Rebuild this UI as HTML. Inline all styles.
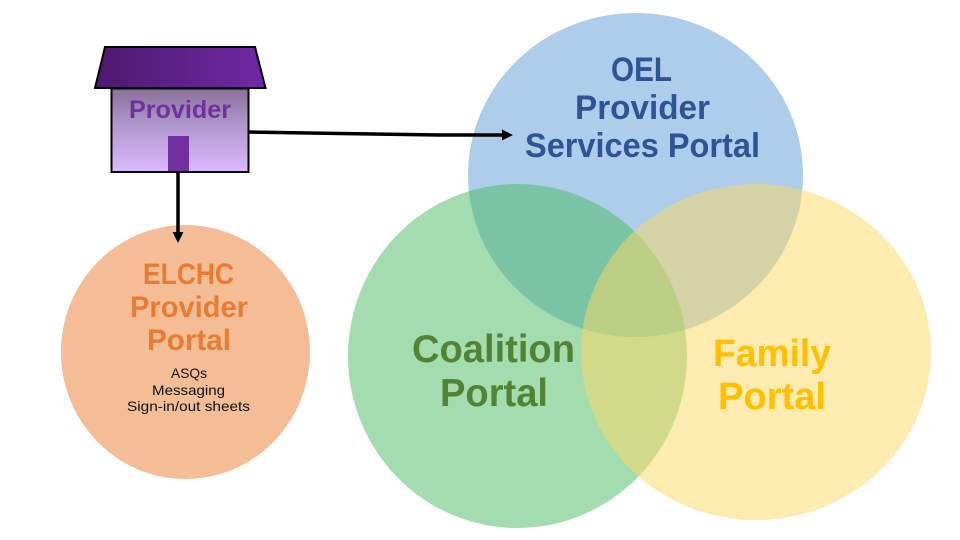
<!DOCTYPE html>
<html>
<head>
<meta charset="utf-8">
<style>
html,body{margin:0;padding:0;background:#fff;width:960px;height:540px;overflow:hidden}
svg{display:block}
text{font-family:"Liberation Sans",sans-serif;text-anchor:start}
.b{font-weight:bold}
</style>
</head>
<body>
<svg width="960" height="540" viewBox="0 0 960 540" xmlns="http://www.w3.org/2000/svg">
<defs>
<linearGradient id="roof" x1="0" y1="0" x2="1" y2="0"><stop offset="0" stop-color="#4b1a6e"/><stop offset="1" stop-color="#7028a4"/></linearGradient>
<linearGradient id="wall" x1="0" y1="0" x2="0" y2="1"><stop offset="0" stop-color="#8a7198"/><stop offset="0.45" stop-color="#b197cf"/><stop offset="1" stop-color="#dcb8ff"/></linearGradient>
</defs>
<rect width="960" height="540" fill="#fff"/>

<ellipse cx="635.5" cy="175" rx="167.5" ry="162" fill="#5b9bd5" fill-opacity="0.5"/>
<ellipse cx="517.5" cy="356" rx="169.5" ry="172" fill="#47bb5f" fill-opacity="0.5"/>
<ellipse cx="756" cy="352" rx="175" ry="168" fill="#fdd761" fill-opacity="0.5"/>
<ellipse cx="185.5" cy="352" rx="124.5" ry="127" fill="#f4bd96"/>

<rect x="111.5" y="88.5" width="137" height="83.500" fill="url(#wall)" stroke="#000" stroke-width="2"/>
<polygon points="105,47 255,47 265.500,88 95,88" fill="url(#roof)" stroke="#000" stroke-width="2"/>
<rect x="168" y="136" width="21" height="35" fill="#7030a0"/>

<polyline points="249,132 340,133.500 440,135 505,135" fill="none" stroke="#000" stroke-width="3.500"/>
<polygon points="502,129.500 513,135 502,140.500" fill="#000"/>
<line x1="178" y1="171" x2="178" y2="233" stroke="#000" stroke-width="3.500"/>
<polygon points="172.500,232 183.500,232 178,243" fill="#000"/>

<text class="b" x="129" y="118" font-size="25" fill="#7030a0" textLength="102" lengthAdjust="spacingAndGlyphs">Provider</text>

<text class="b" x="611" y="81" font-size="34" fill="#2f5496" textLength="61" lengthAdjust="spacingAndGlyphs">OEL</text>
<text class="b" x="575" y="119" font-size="34" fill="#2f5496" textLength="135" lengthAdjust="spacingAndGlyphs">Provider</text>
<text class="b" x="525" y="157" font-size="34" fill="#2f5496" textLength="235" lengthAdjust="spacingAndGlyphs">Services Portal</text>

<text class="b" x="412" y="362" font-size="39" fill="#548235" textLength="163" lengthAdjust="spacingAndGlyphs">Coalition</text>
<text class="b" x="440" y="406" font-size="39" fill="#548235" textLength="108" lengthAdjust="spacingAndGlyphs">Portal</text>

<text class="b" x="713" y="366" font-size="38" fill="#ffc000" textLength="118" lengthAdjust="spacingAndGlyphs">Family</text>
<text class="b" x="718" y="409" font-size="38" fill="#ffc000" textLength="108" lengthAdjust="spacingAndGlyphs">Portal</text>

<text class="b" x="143" y="284" font-size="30" fill="#e97c33" textLength="91" lengthAdjust="spacingAndGlyphs">ELCHC</text>
<text class="b" x="130" y="317" font-size="30" fill="#e97c33" textLength="118" lengthAdjust="spacingAndGlyphs">Provider</text>
<text class="b" x="147" y="350" font-size="30" fill="#e97c33" textLength="84" lengthAdjust="spacingAndGlyphs">Portal</text>

<text x="171" y="378" font-size="14" fill="#111" textLength="36" lengthAdjust="spacingAndGlyphs">ASQs</text>
<text x="152" y="395" font-size="14" fill="#111" textLength="73" lengthAdjust="spacingAndGlyphs">Messaging</text>
<text x="127" y="411" font-size="14" fill="#111" textLength="123" lengthAdjust="spacingAndGlyphs">Sign-in/out sheets</text>
</svg>
</body>
</html>
